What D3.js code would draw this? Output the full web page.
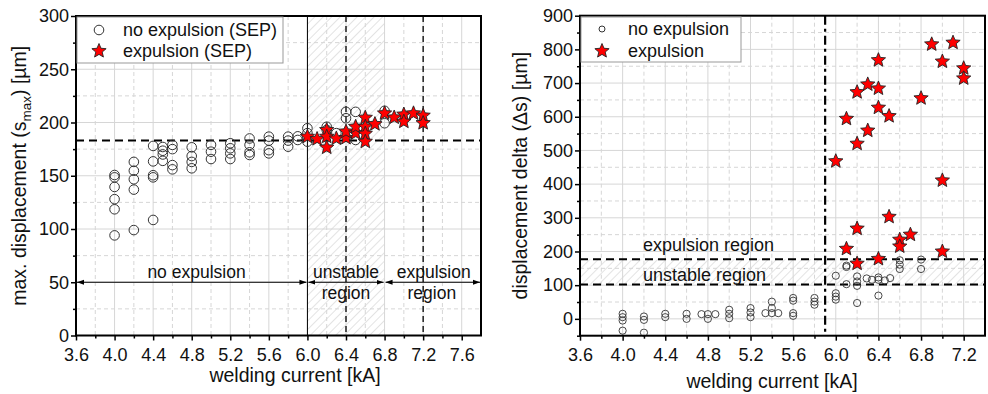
<!DOCTYPE html>
<html><head><meta charset="utf-8">
<script src="https://cdn.jsdelivr.net/npm/d3@7"></script>
<style>
body{margin:0;background:#fff;}
svg{display:block;font-family:"Liberation Sans",Arial,sans-serif;}
</style></head>
<body>
<svg id="chart" width="988" height="394"></svg>
<script>
// ---------- data ----------
// left chart: max. displacement (SEP)
const sepNoX = [4.0,4.0,4.0,4.0,4.0,4.0, 4.2,4.2,4.2,4.2,4.2, 4.4,4.4,4.4,4.4,4.4, 4.5,4.5,4.5,4.5,
  4.6,4.6,4.6,4.6, 4.8,4.8,4.8,4.8, 5.0,5.0,5.0, 5.2,5.2,5.2,5.2, 5.4,5.4,5.4,5.4, 5.6,5.6,5.6,5.6,
  5.8,5.8,5.8, 5.9,5.9, 6.0,6.0,6.0, 6.2,6.2, 6.3, 6.4,6.4, 6.5,6.5, 6.8,6.8];
const sepNoY = [150.7,148.5,139.5,128,118.5,94, 163,154.7,146.7,137,99, 178,163.5,150.5,148.5,108.5, 177,173.5,170,164,
  179,175,160,156, 176.7,168.5,163,157, 179,172.6,165.7, 180.5,175.8,171,165.7, 185,179,172,169.5, 186.7,183,174,171,
  186.7,183,177.3, 187,183.6, 194.6,190,182, 196,193, 190, 210,204, 210,183.6, 211,199.3];
const sepExpX = [6.0, 6.1, 6.2,6.2,6.2, 6.3, 6.4,6.4, 6.5,6.5, 6.6,6.6,6.6,6.6, 6.7, 6.8, 6.9, 7.0,7.0, 7.1, 7.2,7.2];
const sepExpY = [186.7, 184.5, 193,186.7,176.5, 185, 185.5,191.5, 190,196, 204.5,196,189.5,182, 198.5, 208.6, 204.7, 207.5,200.8, 208.6, 206.5,199.5];
const sepThreshold = 183;

// right chart: displacement delta
const dNoX = [4.0,4.0,4.0,4.0, 4.2,4.2,4.2, 4.4,4.4, 4.6,4.6, 4.74, 4.8,4.8, 4.87, 5.0,5.0,5.0, 5.2,5.2,5.2,
  5.34, 5.4,5.4,5.4, 5.46, 5.6,5.6,5.6,5.6, 5.8,5.8,5.8, 6.0,6.0,6.0,6.0, 6.1,6.1,6.1, 6.2,6.2,6.2,6.2,
  6.29, 6.34, 6.4,6.4,6.4, 6.46, 6.51, 6.6,6.6,6.6, 6.8,6.8];
const dNoY = [15,5,-5,-35, 7,-3,-41, 15,5, 15,0, 14, 14,0, 14, 27,15,2, 32,19,5,
  17, 51,32,17, 17, 62,54,17,9, 62,51,42, 128,76,66,57, 158,154,103, 126,111,98,47,
  120, 116, 123,116,69, 114, 121, 174,161,148, 176,148];
const dExpX = [6.0, 6.1,6.1, 6.2,6.2,6.2,6.2, 6.3,6.3, 6.4,6.4,6.4,6.4, 6.5,6.5, 6.6,6.6, 6.7, 6.8, 6.9, 7.0,7.0,7.0, 7.1, 7.2,7.2];
const dExpY = [468, 594,208, 673,520,268,164, 696,559, 768,684,627,178, 602,303, 235,215, 250, 655, 815, 764,411,200, 820, 744,714];
const dExpulsionLimit = 177;
const dUnstableLimit = 102;

const xTicksLeft = [3.6,4.0,4.4,4.8,5.2,5.6,6.0,6.4,6.8,7.2,7.6];
const xTicksRight = [3.6,4.0,4.4,4.8,5.2,5.6,6.0,6.4,6.8,7.2];
const yTicksLeft = [0,50,100,150,200,250,300];
const yTicksRight = [0,100,200,300,400,500,600,700,800,900];

// ---------- helpers ----------
const svg = d3.select("#chart");
const grid = "#d6d6d6";
const FS = 18;
const defs = svg.append("defs");
const pat = defs.append("pattern").attr("id","hatch").attr("patternUnits","userSpaceOnUse")
  .attr("width",6).attr("height",6).attr("patternTransform","rotate(45)");
pat.append("line").attr("x1",0).attr("y1",0).attr("x2",0).attr("y2",6).attr("stroke","#c8c8c8").attr("stroke-width",1);
const mk = defs.append("marker").attr("id","arr").attr("viewBox","0 0 10 10").attr("refX",10).attr("refY",5)
  .attr("markerWidth",7).attr("markerHeight",7).attr("orient","auto-start-reverse").attr("markerUnits","userSpaceOnUse");
mk.append("path").attr("d","M0,1.5L10,5L0,8.5Z").attr("fill","#000");

function starPath(r){
  const ri = r*0.45; let p="";
  for(let i=0;i<10;i++){
    const rr = i%2===0?r:ri; const a = -Math.PI/2 + i*Math.PI/5;
    p += (i===0?"M":"L") + (rr*Math.cos(a)).toFixed(2) + "," + (rr*Math.sin(a)).toFixed(2);
  }
  return p+"Z";
}

function frame(g, x, y, xTicks, xMinor, yTicks, yMinor){
  const [x0,x1] = x.range(), [y1,y0] = y.range();
  g.append("g").selectAll("line").data(xMinor).join("line")
    .attr("x1",d=>x(d)).attr("x2",d=>x(d)).attr("y1",y0).attr("y2",y1)
    .attr("stroke",grid).attr("stroke-dasharray","4,3").attr("stroke-width",1);
  g.append("g").selectAll("line").data(yMinor).join("line")
    .attr("y1",d=>y(d)).attr("y2",d=>y(d)).attr("x1",x0).attr("x2",x1)
    .attr("stroke",grid).attr("stroke-dasharray","4,3").attr("stroke-width",1);
  g.append("g").selectAll("line").data(xTicks).join("line")
    .attr("x1",d=>x(d)).attr("x2",d=>x(d)).attr("y1",y0).attr("y2",y1)
    .attr("stroke",grid).attr("stroke-width",1);
  g.append("g").selectAll("line").data(yTicks).join("line")
    .attr("y1",d=>y(d)).attr("y2",d=>y(d)).attr("x1",x0).attr("x2",x1)
    .attr("stroke",grid).attr("stroke-width",1);
}

function axes(g, x, y, xTicks, xMinor, yTicks, yMinor, yFmt){
  const [x0,x1] = x.range(), [y1,y0] = y.range();
  const xa = g.append("g").attr("transform",`translate(0,${y1})`)
    .call(d3.axisBottom(x).tickValues(xTicks).tickFormat(d3.format(".1f")).tickSize(5).tickSizeOuter(0));
  const xm = g.append("g").attr("transform",`translate(0,${y1})`)
    .call(d3.axisBottom(x).tickValues(xMinor).tickFormat("").tickSize(3).tickSizeOuter(0));
  const ya = g.append("g").attr("transform",`translate(${x0},0)`)
    .call(d3.axisLeft(y).tickValues(yTicks).tickFormat(yFmt).tickSize(5).tickSizeOuter(0));
  const ym = g.append("g").attr("transform",`translate(${x0},0)`)
    .call(d3.axisLeft(y).tickValues(yMinor).tickFormat("").tickSize(3).tickSizeOuter(0));
  [xa,xm,ya,ym].forEach(a=>{
    a.select(".domain").remove();
    a.selectAll("line").attr("stroke","#000").attr("stroke-width",1.5);
    a.selectAll("text").attr("font-size",FS).attr("fill","#111").attr("font-family","Liberation Sans, Arial, sans-serif");
  });
  xa.selectAll("text").attr("y",12.5).attr("dy","0.71em");
  ya.selectAll("text").attr("x",-7);
  g.append("rect").attr("x",x0).attr("y",y0).attr("width",x1-x0).attr("height",y1-y0)
    .attr("fill","none").attr("stroke","#000").attr("stroke-width",2);
}

function minorBetween(arr, step){
  return arr.map(v=>+(v+step).toFixed(3));
}

// ================= LEFT CHART =================
{
  const x = d3.scaleLinear().domain([3.6,7.8]).range([76,481]);
  const y = d3.scaleLinear().domain([0,300]).range([335.5,16]);
  const g = svg.append("g");
  const xMinor = minorBetween(xTicksLeft,0.2).filter(d=>d<7.8);
  const yMinor = minorBetween(yTicksLeft,25).filter(d=>d<300);
  g.append("rect").attr("x",x(6.0)).attr("y",y(300)).attr("width",x(6.8)-x(6.0)).attr("height",y(0)-y(300))
    .attr("fill","url(#hatch)");
  frame(g,x,y,xTicksLeft,xMinor,yTicksLeft,yMinor);
  g.append("line").attr("x1",x(6.0)).attr("x2",x(6.0)).attr("y1",y(300)).attr("y2",y(0)).attr("stroke","#000").attr("stroke-width",1);
  [6.4,7.2].forEach(v=>g.append("line").attr("x1",x(v)).attr("x2",x(v)).attr("y1",y(300)).attr("y2",y(0))
    .attr("stroke","#000").attr("stroke-width",1.3).attr("stroke-dasharray","6,4"));
  g.append("line").attr("x1",x(3.6)).attr("x2",x(7.8)).attr("y1",y(sepThreshold)).attr("y2",y(sepThreshold))
    .attr("stroke","#000").attr("stroke-width",2).attr("stroke-dasharray","8,5");
  const segs = [[3.6,6.0],[6.0,6.8],[6.8,7.8]];
  segs.forEach(s=>g.append("line").attr("x1",x(s[0])+1).attr("x2",x(s[1])-1).attr("y1",y(50)).attr("y2",y(50))
    .attr("stroke","#000").attr("stroke-width",1.2).attr("marker-start","url(#arr)").attr("marker-end","url(#arr)"));
  const t = (tx,ty,s)=>g.append("text").attr("x",tx).attr("y",ty).attr("text-anchor","middle")
    .attr("font-size",17.5).attr("fill","#111").text(s);
  t(x(4.85),y(50)-4.5,"no expulsion");
  t(x(6.4),y(50)-4.5,"unstable");
  t(x(6.4),y(50)+16.5,"region");
  t(x(7.31),y(50)-4.5,"expulsion");
  t(x(7.29),y(50)+16.5,"region");
  g.append("g").selectAll("circle").data(sepNoX.map((d,i)=>[d,sepNoY[i]])).join("circle")
    .attr("cx",d=>x(d[0])).attr("cy",d=>y(d[1])).attr("r",4.8)
    .attr("fill","none").attr("stroke","#333").attr("stroke-width",1);
  g.append("g").selectAll("path").data(sepExpX.map((d,i)=>[d,sepExpY[i]])).join("path")
    .attr("d",starPath(7.5)).attr("transform",d=>`translate(${x(d[0])},${y(d[1])})`)
    .attr("fill","#f00").attr("stroke","#222").attr("stroke-width",0.9);
  axes(g,x,y,xTicksLeft,xMinor,yTicksLeft,yMinor,d3.format("d"));
  const lg = g.append("g");
  lg.append("rect").attr("x",77).attr("y",17).attr("width",206).attr("height",46).attr("fill","#fff").attr("stroke","#999");
  lg.append("circle").attr("cx",99).attr("cy",30).attr("r",4.8).attr("fill","none").attr("stroke","#333");
  lg.append("path").attr("d",starPath(7.5)).attr("transform","translate(99,51)").attr("fill","#f00").attr("stroke","#222").attr("stroke-width",0.9);
  lg.append("text").attr("x",123).attr("y",35.5).attr("font-size",FS).attr("fill","#111").text("no expulsion (SEP)");
  lg.append("text").attr("x",123).attr("y",57).attr("font-size",FS).attr("fill","#111").text("expulsion (SEP)");
  g.append("text").attr("x",295).attr("y",382).attr("text-anchor","middle").attr("font-size",19.5).attr("fill","#111").text("welding current [kA]");
  const yt = g.append("text").attr("transform",`translate(26,${(y(0)+y(300))/2}) rotate(-90)`).attr("text-anchor","middle")
    .attr("font-size",19.5).attr("fill","#111");
  yt.append("tspan").text("max. displacement (s");
  yt.append("tspan").attr("font-size",13.5).attr("dy",5).text("max");
  yt.append("tspan").attr("dy",-5).text(") [µm]");
}

// ================= RIGHT CHART =================
{
  const x = d3.scaleLinear().domain([3.6,7.4]).range([580,985]);
  const y = d3.scaleLinear().domain([-50,900]).range([335.7,15.7]);
  const g = svg.append("g");
  const xMinor = minorBetween(xTicksRight,0.2).filter(d=>d<7.4);
  const yMinor = [-50].concat(minorBetween(yTicksRight,50).filter(d=>d<900));
  g.append("rect").attr("x",x(3.6)).attr("y",y(dExpulsionLimit)).attr("width",x(7.4)-x(3.6))
    .attr("height",y(dUnstableLimit)-y(dExpulsionLimit)).attr("fill","url(#hatch)");
  frame(g,x,y,xTicksRight,xMinor,yTicksRight,yMinor);
  [dExpulsionLimit,dUnstableLimit].forEach(v=>g.append("line").attr("x1",x(3.6)).attr("x2",x(7.4)).attr("y1",y(v)).attr("y2",y(v))
    .attr("stroke","#000").attr("stroke-width",2).attr("stroke-dasharray","8,5"));
  g.append("line").attr("x1",x(5.9)).attr("x2",x(5.9)).attr("y1",y(900)).attr("y2",y(-50))
    .attr("stroke","#000").attr("stroke-width",2.2).attr("stroke-dasharray","9,4,3,4");
  g.append("text").attr("x",643).attr("y",y(dExpulsionLimit)-8).attr("font-size",FS).attr("fill","#111").text("expulsion region");
  g.append("text").attr("x",643).attr("y",y(dUnstableLimit)-4).attr("font-size",FS).attr("fill","#111").text("unstable region");
  g.append("g").selectAll("circle").data(dNoX.map((d,i)=>[d,dNoY[i]])).join("circle")
    .attr("cx",d=>x(d[0])).attr("cy",d=>y(d[1])).attr("r",3.6)
    .attr("fill","none").attr("stroke","#333").attr("stroke-width",0.9);
  g.append("g").selectAll("path").data(dExpX.map((d,i)=>[d,dExpY[i]])).join("path")
    .attr("d",starPath(7.5)).attr("transform",d=>`translate(${x(d[0])},${y(d[1])})`)
    .attr("fill","#f00").attr("stroke","#222").attr("stroke-width",0.9);
  axes(g,x,y,xTicksRight,xMinor,yTicksRight,yMinor,d3.format("d"));
  const lg = g.append("g");
  lg.append("rect").attr("x",581).attr("y",17).attr("width",160).attr("height",45).attr("fill","#fff").attr("stroke","#999");
  lg.append("circle").attr("cx",602).attr("cy",29).attr("r",3).attr("fill","none").attr("stroke","#333");
  lg.append("path").attr("d",starPath(7.5)).attr("transform","translate(602,51)").attr("fill","#f00").attr("stroke","#222").attr("stroke-width",0.9);
  lg.append("text").attr("x",628).attr("y",35).attr("font-size",FS).attr("fill","#111").text("no expulsion");
  lg.append("text").attr("x",628).attr("y",56.5).attr("font-size",FS).attr("fill","#111").text("expulsion");
  g.append("text").attr("x",772).attr("y",388).attr("text-anchor","middle").attr("font-size",19.5).attr("fill","#111").text("welding current [kA]");
  g.append("text").attr("transform",`translate(527,${(y(-50)+y(900))/2}) rotate(-90)`).attr("text-anchor","middle")
    .attr("font-size",19.5).attr("fill","#111").text("displacement delta (Δs) [µm]");
}
</script>
</body></html>
